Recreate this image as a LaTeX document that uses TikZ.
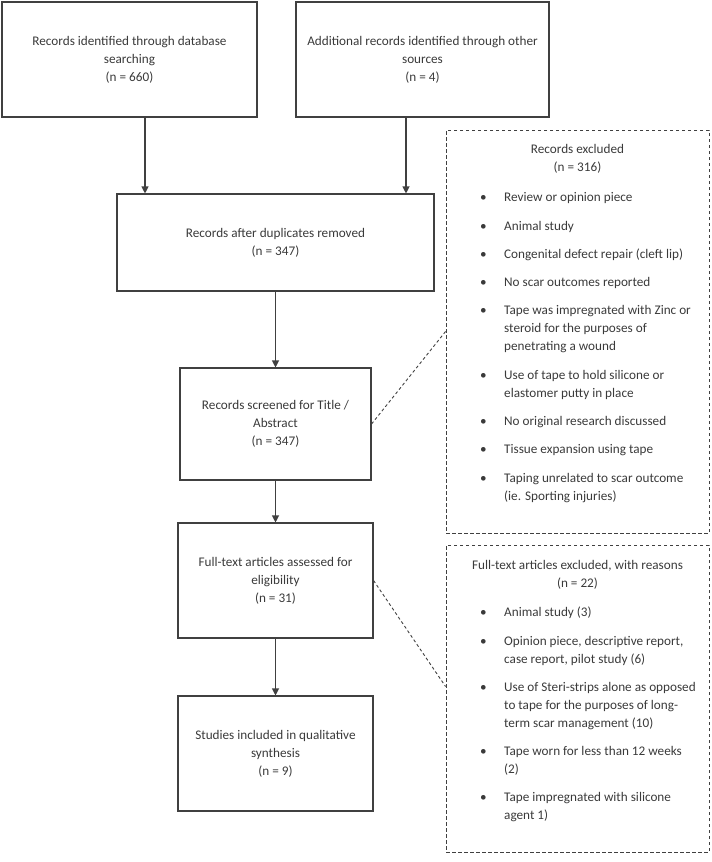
\documentclass[tikz,border=0pt]{standalone}
\usepackage{fontspec}
\setmainfont{Carlito}
\usetikzlibrary{arrows.meta}
\definecolor{flowgray}{HTML}{404040}
\definecolor{textgray}{HTML}{3A3A3A}
\tikzset{
    flowbox/.style={draw=flowgray, line width=1.1pt, align=center, inner sep=0pt},
    exclbox/.style={draw=flowgray, line width=0.9pt, dash pattern=on 3.5pt off 2.5pt},
    exclhead/.style={align=center, inner sep=0pt},
    excllist/.style={align=left, inner sep=0pt, anchor=north west},
    flowarrow/.style={draw=flowgray, line width=1.1pt, -{Triangle[width=7pt,length=7pt]}},
    exclline/.style={draw=flowgray, line width=0.9pt, dash pattern=on 3pt off 2.5pt}
}
\newcommand{\bul}{\makebox[24pt][l]{\textbullet}}
\newcommand{\cont}{\hspace*{24pt}}
\begin{document}
\begin{tikzpicture}[x=1pt, y=-1pt, font=\fontsize{13.2}{18}\selectfont, text=textgray]
    \useasboundingbox (0,0) rectangle (712,862);
    \node[flowbox, minimum width=255pt, minimum height=115pt] (recdb) at (129.5,59.5) {Records identified through database\\searching\\(n = 660)};
    \node[flowbox, minimum width=253pt, minimum height=115pt] (recother) at (422.5,59.5) {Additional records identified through other\\sources\\(n = 4)};
    \node[flowbox, minimum width=317pt, minimum height=97pt] (dupl) at (275.5,242.5) {Records after duplicates removed\\(n = 347)};
    \node[flowbox, minimum width=191pt, minimum height=112pt] (screen) at (275.5,424) {Records screened for Title /\\Abstract\\(n = 347)};
    \node[flowbox, minimum width=195pt, minimum height=115pt] (fulltext) at (275.5,580.5) {Full-text articles assessed for\\eligibility\\(n = 31)};
    \node[flowbox, minimum width=195pt, minimum height=115pt] (included) at (275.5,753.5) {Studies included in qualitative\\synthesis\\(n = 9)};
    \node[exclbox, minimum width=263pt, minimum height=403pt] (excl1) at (577.5,331.5) {};
    \node[exclbox, minimum width=263pt, minimum height=307pt] (excl2) at (577.5,698.5) {};
    \node[exclhead] (excl1head) at (577.5,159.3) {Records excluded\\(n = 316)};
    \node[excllist] (excl1list) at (480,188.9) {\strut\bul Review or opinion piece\\[10.3pt]
        \bul Animal study\\[10.3pt]
        \bul Congenital defect repair (cleft lip)\\[10.3pt]
        \bul No scar outcomes reported\\[10.3pt]
        \bul Tape was impregnated with Zinc or\\
        \cont steroid for the purposes of\\
        \cont penetrating a wound\\[10.3pt]
        \bul Use of tape to hold silicone or\\
        \cont elastomer putty in place\\[10.3pt]
        \bul No original research discussed\\[10.3pt]
        \bul Tissue expansion using tape\\[10.3pt]
        \bul Taping unrelated to scar outcome\\
        \cont (ie. Sporting injuries)};
    \node[exclhead] (excl2head) at (577.5,575.3) {Full-text articles excluded, with reasons\\(n = 22)};
    \node[excllist] (excl2list) at (480,603.9) {\strut\bul Animal study (3)\\[10.3pt]
        \bul Opinion piece, descriptive report,\\
        \cont case report, pilot study (6)\\[10.3pt]
        \bul Use of Steri-strips alone as opposed\\
        \cont to tape for the purposes of long-\\
        \cont term scar management (10)\\[10.3pt]
        \bul Tape worn for less than 12 weeks\\
        \cont (2)\\[10.3pt]
        \bul Tape impregnated with silicone\\
        \cont agent 1)};
    \draw[flowarrow] ([xshift=15.5pt]recdb.south)--([xshift=15.5pt]recdb.south |- dupl.north);
    \draw[flowarrow] ([xshift=-16.5pt]recother.south)--([xshift=-16.5pt]recother.south |- dupl.north);
    \foreach \from/\to in {dupl/screen, screen/fulltext, fulltext/included}{
        \draw[flowarrow] (\from)--(\to);}
    \draw[exclline] (screen.east)--(excl1.west);
    \draw[exclline] (fulltext.east)--([yshift=12pt]excl2.west);
\end{tikzpicture}
\end{document}
